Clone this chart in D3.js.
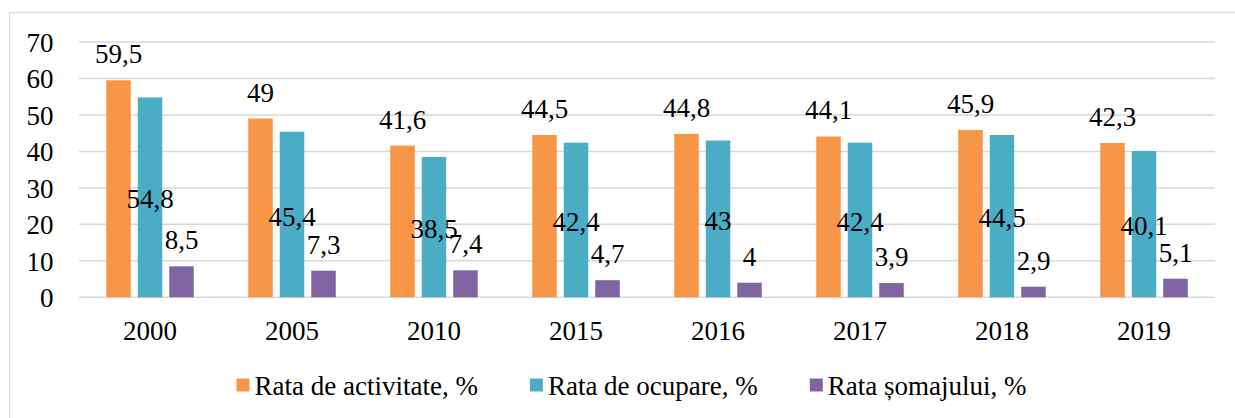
<!DOCTYPE html>
<html>
<head>
<meta charset="utf-8">
<script src="https://cdn.jsdelivr.net/npm/d3@7"></script>
<style>
  html, body { margin: 0; padding: 0; background: #fff; }
  svg { display: block; }
  text { font-family: "Liberation Serif", "DejaVu Serif", "Times New Roman", serif; fill: #000; }
</style>
</head>
<body>
<svg id="chart" width="1235" height="418"></svg>
<script>
const years = ["2000", "2005", "2010", "2015", "2016", "2017", "2018", "2019"];
const seriesNames = ["Rata de activitate, %", "Rata de ocupare, %", "Rata șomajului, %"];
const activitate = [59.5, 49, 41.6, 44.5, 44.8, 44.1, 45.9, 42.3];
const ocupare = [54.8, 45.4, 38.5, 42.4, 43, 42.4, 44.5, 40.1];
const somaj = [8.5, 7.3, 7.4, 4.7, 4, 3.9, 2.9, 5.1];
const yTicks = [0, 10, 20, 30, 40, 50, 60, 70];
const colors = ["#F79646", "#4BACC6", "#8064A2"];

const seriesValues = [activitate, ocupare, somaj];
const fmt = v => String(v).replace(".", ",");
const FS = 27;

const svg = d3.select("#chart");

// outer chart border
svg.append("rect")
  .attr("x", 9.5).attr("y", 12.5)
  .attr("width", 1240).attr("height", 420)
  .attr("fill", "none").attr("stroke", "#D9D9D9").attr("stroke-width", 1.2);

const x0 = d3.scaleBand().domain(years).range([79, 1215]).padding(0);
const y = d3.scaleLinear().domain([0, 70]).range([297.3, 42]);
const x1 = d3.scaleBand().domain(d3.range(3))
  .range([-47.25, 47.25]).paddingInner(0.222).paddingOuter(0.111);

// gridlines
svg.append("g").selectAll("line").data(yTicks).join("line")
  .attr("x1", 79).attr("x2", 1215)
  .attr("y1", d => y(d)).attr("y2", d => y(d))
  .attr("stroke", "#D9D9D9").attr("stroke-width", 1.5);

// y axis labels
const yAxis = d3.axisLeft(y).tickValues(yTicks).tickSize(0).tickPadding(0).tickFormat(d => d);
const gy = svg.append("g").attr("transform", "translate(53.5,0)").call(yAxis);
gy.select(".domain").remove();
gy.attr("font-family", null).attr("font-size", null);
gy.selectAll("text")
  .style("font-size", FS + "px").attr("fill", "#000").attr("x", 0).attr("dy", "0.34em");

// x axis labels
const xAxis = d3.axisBottom(x0).tickSize(0).tickPadding(0);
const gx = svg.append("g").attr("transform", "translate(0,340)").call(xAxis);
gx.select(".domain").remove();
gx.attr("font-family", null).attr("font-size", null);
gx.selectAll("text")
  .style("font-size", FS + "px").attr("fill", "#000").attr("y", 0).attr("dy", 0);

// bars
const data = [];
years.forEach((yr, i) => {
  seriesValues.forEach((vals, s) => data.push({ yr, s, v: vals[i] }));
});
const cx = d => x0(d.yr) + x0.bandwidth() / 2 + x1(d.s);

svg.append("g").selectAll("rect").data(data).join("rect")
  .attr("x", d => cx(d))
  .attr("y", d => y(d.v))
  .attr("width", x1.bandwidth())
  .attr("height", d => y(0) - y(d.v))
  .attr("fill", d => colors[d.s]);

// data labels
svg.append("g").selectAll("text").data(data).join("text")
  .attr("x", d => cx(d) + x1.bandwidth() / 2)
  .attr("y", d => d.s === 1 ? y(d.v / 2) + 11 : y(d.v) - 17)
  .attr("text-anchor", "middle")
  .style("font-size", FS + "px")
  .text(d => fmt(d.v));

// legend
const legend = svg.append("g");
const items = legend.selectAll("g").data(seriesNames).join("g");
const sq = 13, gap = 5, spacing = 52;
items.append("rect").attr("width", sq).attr("height", sq).attr("y", 378.5)
  .attr("fill", (d, i) => colors[i]);
items.append("text")
  .attr("x", sq + gap).attr("y", 394.5)
  .style("font-size", FS + "px").text(d => d);
const widths = [];
items.each(function () {
  widths.push(sq + gap + this.querySelector("text").getComputedTextLength());
});
const total = d3.sum(widths) + spacing * (widths.length - 1);
let pos = 631.5 - total / 2;
items.each(function (d, i) {
  d3.select(this).attr("transform", `translate(${pos},0)`);
  pos += widths[i] + spacing;
});
</script>
</body>
</html>
